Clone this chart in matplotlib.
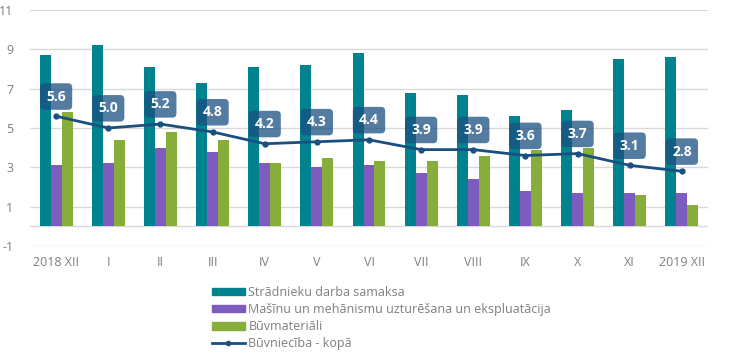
import matplotlib
matplotlib.use("Agg")
from matplotlib import pyplot as plt
from matplotlib.lines import Line2D
from matplotlib.patches import Patch
import numpy as np

plt.rcParams['font.family'] = ['Open Sans', 'DejaVu Sans']
plt.rcParams['axes.unicode_minus'] = False

# Data
months = ["2018 XII", "I", "II", "III", "IV", "V", "VI", "VII", "VIII",
          "IX", "X", "XI", "2019 XII"]
labour = [8.7, 9.2, 8.1, 7.3, 8.1, 8.2, 8.8, 6.8, 6.7, 5.6, 5.9, 8.5, 8.6]
machines = [3.1, 3.2, 4.0, 3.8, 3.2, 3.0, 3.1, 2.7, 2.4, 1.8, 1.7, 1.7, 1.7]
materials = [5.8, 4.4, 4.8, 4.4, 3.2, 3.5, 3.3, 3.3, 3.6, 3.9, 4.0, 1.6, 1.1]
total = [5.6, 5.0, 5.2, 4.8, 4.2, 4.3, 4.4, 3.9, 3.9, 3.6, 3.7, 3.1, 2.8]

names = ["Strādnieku darba samaksa",
         "Mašīnu un mehānismu uzturēšana un ekspluatācija",
         "Būvmateriāli",
         "Būvniecība - kopā"]

c_teal = "#00838f"
c_purple = "#7e5bbf"
c_green = "#87ad3a"
c_line = "#1b4f80"
c_grey = "#7f7f7f"

fig = plt.figure(figsize=(7.3, 3.55), dpi=100)
ax = fig.add_axes([30 / 730, 1 - 246 / 355, 678 / 730, 236 / 355])

x = np.arange(len(months))
w = 0.21
ax.bar(x - w, labour, w, color=c_teal, zorder=2)
ax.bar(x, machines, w, color=c_purple, zorder=2)
ax.bar(x + w, materials, w, color=c_green, zorder=2)
ax.plot(x, total, color=c_line, lw=2, marker="o", ms=3.5, zorder=3)

for xi, v in zip(x, total):
    ax.text(xi, v + 1.0, "%.1f" % v, ha="center", va="center",
            color="white", fontsize=10, fontweight="bold", zorder=4,
            bbox=dict(boxstyle="round,pad=0.45,rounding_size=0.3",
                      fc=c_line, ec="none", alpha=0.75))

ax.set_xlim(-0.5, len(months) - 0.5)
ax.set_ylim(-1, 11)
ax.set_yticks([-1, 1, 3, 5, 7, 9, 11])
ax.set_xticks(x)
ax.set_xticklabels(months)
ax.yaxis.grid(True, color="#d9d9d9", lw=1, zorder=0)
ax.axhline(0, color="#d9d9d9", lw=1, zorder=1)
for s in ax.spines.values():
    s.set_visible(False)
ax.tick_params(length=0, colors=c_grey, labelsize=9)
ax.tick_params(axis="y", pad=12)
ax.tick_params(axis="x", pad=7)

handles = [Patch(color=c_teal), Patch(color=c_purple), Patch(color=c_green),
           Line2D([], [], color=c_line, lw=2, marker="o", ms=3)]
leg = fig.legend(handles, names, loc="upper left",
                 bbox_to_anchor=(207 / 730, 1 - 281 / 355), frameon=False,
                 fontsize=9, handlelength=2.6, handleheight=0.55,
                 labelspacing=0.33, handletextpad=0.3, borderaxespad=0)
for t in leg.get_texts():
    t.set_color(c_grey)

fig.savefig("out.png", dpi=100)
